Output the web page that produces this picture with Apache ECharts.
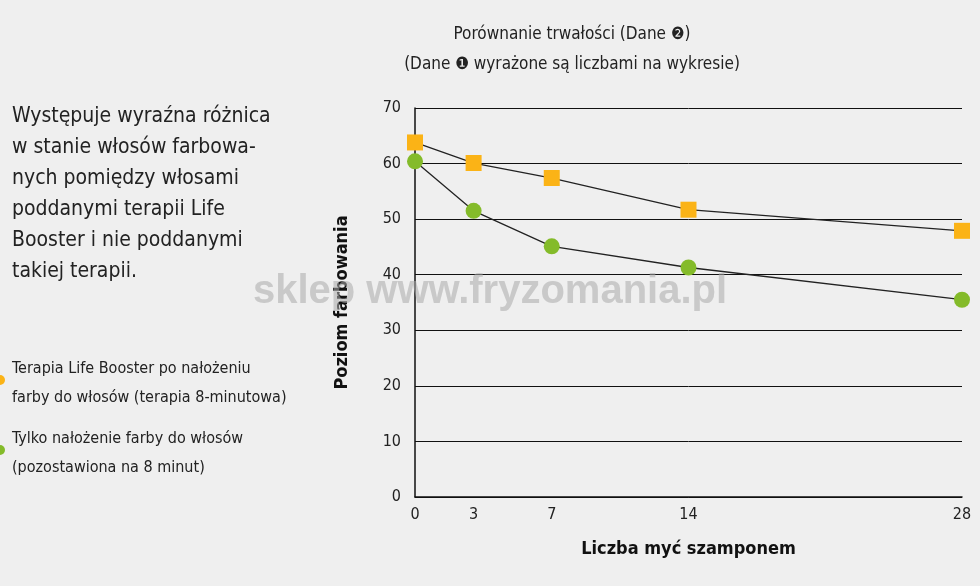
<!DOCTYPE html>
<html><head><meta charset="utf-8">
<script src="https://cdn.jsdelivr.net/npm/echarts@6/dist/echarts.min.js"></script>
<style>html,body{margin:0;padding:0;background:#efefef}#c{width:980px;height:586px}</style>
</head><body><div id="c"></div>
<script>
const xTicks = [0, 3, 7, 14, 28];
const treated = [63.8, 60.1, 57.4, 51.7, 47.9];
const untreated = [60.4, 51.5, 45.1, 41.3, 35.5];
const yTicks = [0,10,20,30,40,50,60,70];
const F = "'Liberation Sans Narrow','DejaVu Sans Condensed','Noto Sans',sans-serif";
const chart = echarts.init(document.getElementById('c'));
const pairs = a => xTicks.map((x,i)=>[x,a[i]]);
const bodyLines = ['Występuje wyraźna różnica','w stanie włosów farbowa-','nych pomiędzy włosami','poddanymi terapii Life','Booster i nie poddanymi','takiej terapii.'];
chart.setOption({
  backgroundColor:'#efefef',
  animation:false,
  grid:{left:415,right:18,top:108,bottom:89},
  xAxis:{type:'value',min:0,max:28,
    axisLine:{show:true,lineStyle:{color:'#111',width:1.5}},axisTick:{show:false},splitLine:{show:false},
    axisLabel:{customValues:xTicks,color:'#222',fontSize:16,fontFamily:F,margin:10},
    name:'Liczba myć szamponem',nameLocation:'middle',nameGap:43,
    nameTextStyle:{fontWeight:'bold',fontSize:18,color:'#111',fontFamily:"'DejaVu Sans Condensed',sans-serif"}},
  yAxis:{type:'value',min:0,max:70,interval:10,
    axisLine:{show:true,lineStyle:{color:'#111',width:1.5}},axisTick:{show:false},
    splitLine:{lineStyle:{color:'#111',width:1}},
    axisLabel:{color:'#222',fontSize:16,fontFamily:F,margin:14},
    name:'Poziom farbowania',nameLocation:'middle',nameGap:64,
    nameTextStyle:{fontWeight:'bold',fontSize:18,color:'#111',fontFamily:"'DejaVu Sans Condensed',sans-serif"}},
  series:[
    {type:'line',data:pairs(treated),symbol:'rect',symbolSize:16,
     lineStyle:{color:'#222',width:1.3},itemStyle:{color:'#fbb316'}},
    {type:'line',data:pairs(untreated),symbol:'circle',symbolSize:16,
     lineStyle:{color:'#222',width:1.3},itemStyle:{color:'#84bb2a'}}
  ],
  graphic:[
    {type:'text',style:{x:572,y:35,text:'Porównanie trwałości (Dane ❷)',textAlign:'center',textVerticalAlign:'middle',fontSize:17,fontFamily:F,fill:'#222'}},
    {type:'text',style:{x:572,y:65,text:'(Dane ❶ wyrażone są liczbami na wykresie)',textAlign:'center',textVerticalAlign:'middle',fontSize:17,fontFamily:F,fill:'#222'}},
    ...bodyLines.map((t,i)=>({type:'text',style:{x:12,y:117+i*31,text:t,textVerticalAlign:'middle',fontSize:21,fontFamily:F,fill:'#222'}})),
    {type:'text',style:{x:12,y:383,text:'Terapia Life Booster po nałożeniu\nfarby do włosów (terapia 8-minutowa)',lineHeight:29,textVerticalAlign:'middle',fontSize:16,fontFamily:F,fill:'#222'}},
    {type:'text',style:{x:12,y:453,text:'Tylko nałożenie farby do włosów\n(pozostawiona na 8 minut)',lineHeight:29,textVerticalAlign:'middle',fontSize:16,fontFamily:F,fill:'#222'}},
    {type:'circle',shape:{cx:0,cy:380,r:5},style:{fill:'#fbb316'}},
    {type:'circle',shape:{cx:0,cy:450,r:5},style:{fill:'#84bb2a'}},
    {type:'text',z:100,style:{x:490,y:292,text:'sklep www.fryzomania.pl',textAlign:'center',textVerticalAlign:'middle',fontSize:40,fontWeight:'bold',fontFamily:"'Liberation Sans',sans-serif",fill:'rgba(170,170,170,0.55)'}}
  ]
});
</script></body></html>
